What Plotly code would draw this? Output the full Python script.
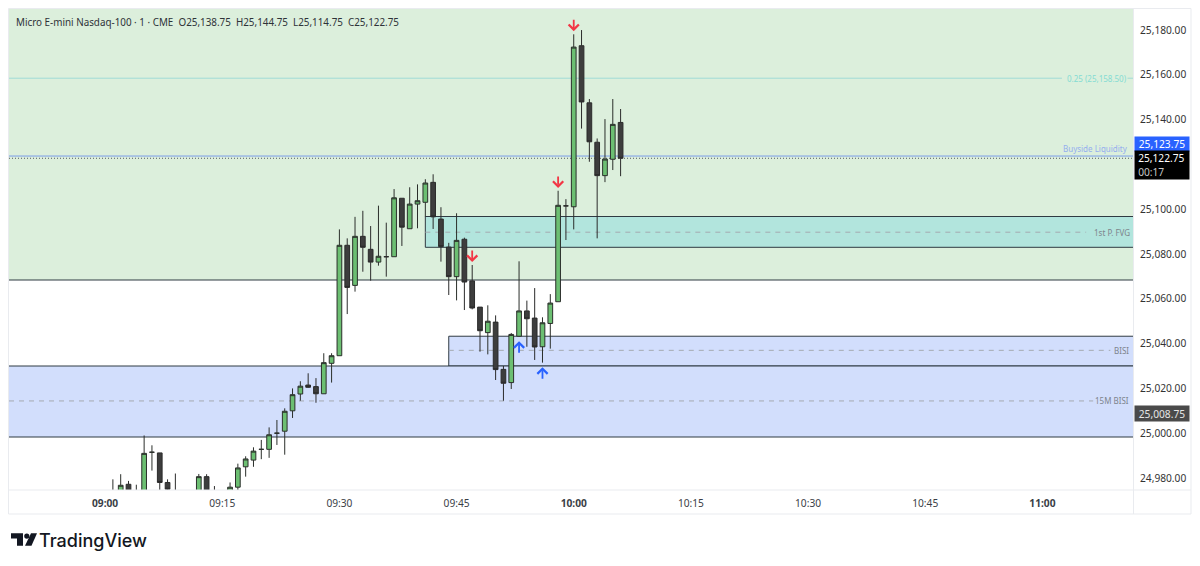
import plotly.graph_objects as go

DAY = "2025-10-06 "
times = ["09:01","09:02","09:03","09:04","09:05","09:06","09:07","09:08","09:09","09:12","09:13","09:14","09:16","09:17",
         "09:18","09:19","09:20","09:21","09:22","09:23","09:24","09:25","09:26","09:27","09:28","09:29",
         "09:30","09:31","09:32","09:33","09:34","09:35","09:36","09:37","09:38","09:39","09:40","09:41","09:42","09:43",
         "09:44","09:45","09:46","09:47","09:48","09:49","09:50","09:51","09:52","09:53","09:54","09:55","09:56","09:57",
         "09:58","09:59","10:00","10:01","10:02","10:03","10:04","10:05","10:06"]
opens = [24970,24970,24977.2,24970,24972,24991.5,24991.2,24978,24973,24970,24980.6,24970,24972,24975.9,
         24985,24988,24992.8,24992.8,25000,25000.9,25010,25017.5,25021.5,25020.8,25017.6,25031.2,
         25034.6,25083.9,25066,25087.9,25082.1,25076.4,25078.8,25078.8,25104.9,25091.3,25102.3,25103.1,25112,25095.6,
         25083.1,25069.9,25086.6,25068,25056.3,25044.9,25049.6,25028.5,25022.6,25043.3,25054.6,25051.4,25038.6,25049,
         25058.7,25101.5,25101.1,25173,25147.5,25129.9,25115,25122.3,25138.75]
highs = [24979.4,24981.7,24978.7,24977,24999,24994.6,24991.2,24979.4,24982,24981.8,24981.7,24976.4,24978,24986.4,
         24989.7,24993.7,24997,25002.6,25005.9,25011.1,25020,25023.2,25026.75,25024.6,25035.7,25035.7,
         25091,25087,25096.6,25099.3,25092.5,25101.6,25094,25109,25104.9,25109.8,25111.1,25113.4,25115.6,25100.9,
         25085,25098.2,25087.3,25075.1,25056.3,25057.1,25052.6,25030,25044.75,25076.75,25059.2,25064.8,25051.75,25062.1,
         25108.25,25104.5,25178.1,25180,25149.2,25131.6,25140.25,25149.2,25144.75]
lows = [24965,24968,24965,24964,24968,24983.3,24972,24974,24968,24968,24968,24965,24970,24974,
        24980.6,24985,24988.4,24989,24994.75,24990.4,25006.8,25014.5,25020.3,25013.6,25017.6,25022.6,
        25034.6,25053.2,25063.2,25072.1,25068.1,25074.8,25069.9,25078.8,25083.6,25091.3,25091.5,25096.6,25091.2,25076.6,
        25061.7,25059.3,25055,25055.3,25036.4,25035.2,25023.75,25014.5,25019.75,25043.1,25038.6,25032.7,25031.5,25037.75,
        25058.7,25086.25,25091,25136,25121.2,25087,25112.1,25117.5,25114.75]
closes = [24972,24976.75,24970,24973,24991,24991.5,24978,24975,24972,24980.6,24970,24968,24975.9,24984.5,
          24988.5,24992,24992.8,24999.3,25000,25009.8,25017.2,25021,25020.5,25017.6,25031.5,25034.6,
          25083.9,25065.1,25087.9,25083,25076.4,25079,25078.8,25105.1,25092,25102.3,25103.8,25111.7,25096.6,25083.3,
          25069.9,25086.1,25067.5,25055.9,25045.75,25050,25028.4,25022.3,25044.1,25054.6,25051.1,25038.5,25049.3,25058.1,
          25101.75,25101.5,25172.4,25147.9,25130.1,25115,25122.4,25137.9,25122.75]

tick_times = ["09:00","09:15","09:30","09:45","10:00","10:15","10:30","10:45","11:00"]
tick_labels = ["<b>09:00</b>","09:15","09:30","09:45","<b>10:00</b>","10:15","10:30","10:45","<b>11:00</b>"]
price_ticks = [24980,25000,25020,25040,25060,25080,25100,25140,25160,25180]

zone_names = ["Premium","1st P. FVG","BISI","15M BISI"]
zone_starts = [None,"09:41","09:44",None]
zone_tops = [25189.4,25096.75,25043.3,25030]
zone_bottoms = [25068.4,25083,25030,24998.3]
zone_mids = [None,25089.75,25037,25014.4]
zone_mid_ends = [None,"11:05:36","11:08:42","11:06:30"]
zone_fills = ["#dcefdc","#b2e5dd","#d2defc","#d2defc"]

level_fib = 25158.5
level_buyside = 25123.75
level_last = 25122.75
level_other = 25008.75

arrow_times = ["10:00","09:58","09:47","09:53","09:56"]
arrow_prices = [25179.5,25109.5,25076.4,25041.1,25029.5]
arrow_dirs = ["down","down","down","up","up"]

XMIN, XMAX = DAY + "08:47:42", DAY + "11:11:36"
YMIN, YMAX = 24974.64, 25189.4

W, H = 1200, 566
L, R, T, B = 9, 1133, 9, 490
FONT = "Noto Sans"

def px(x):
    return (x - L) / (R - L)
def py(y):
    return (B - y) / (B - T)

fig = go.Figure(go.Candlestick(
    x=[DAY + t for t in times], open=opens, high=highs, low=lows, close=closes,
    increasing=dict(line=dict(color="#2b2f2b", width=1), fillcolor="#6cbf72"),
    decreasing=dict(line=dict(color="#2b2b2b", width=1), fillcolor="#3d3d3d"),
    whiskerwidth=0, hoverinfo="skip", showlegend=False))

EDGE = "#2f3a42"
shapes = []
annots = []
for name, st, top, bot, col in zip(zone_names, zone_starts, zone_tops, zone_bottoms, zone_fills):
    x0 = DAY + st if st else XMIN
    shapes.append(dict(type="rect", layer="below", xref="x", yref="y", x0=x0, x1=XMAX, y0=bot, y1=top,
                       fillcolor=col, line_width=0))
    if name != "Premium":
        shapes.append(dict(type="line", layer="below", xref="x", yref="y", x0=x0, x1=XMAX, y0=top, y1=top,
                           line=dict(color=EDGE, width=1)))
    shapes.append(dict(type="line", layer="below", xref="x", yref="y", x0=x0, x1=XMAX, y0=bot, y1=bot,
                       line=dict(color=EDGE, width=1)))
    if st:
        shapes.append(dict(type="line", layer="below", xref="x", yref="y", x0=x0, x1=x0, y0=bot, y1=top,
                           line=dict(color=EDGE, width=1)))

label_right = {"1st P. FVG": 1132, "BISI": 1131, "15M BISI": 1131}
for name, st, mid, end in zip(zone_names, zone_starts, zone_mids, zone_mid_ends):
    if mid is None:
        continue
    shapes.append(dict(type="line", layer="below", xref="x", yref="y",
                       x0=DAY + st if st else XMIN, x1=DAY + end, y0=mid, y1=mid,
                       line=dict(color="#a4aab0", width=1, dash="5px,5px")))
    annots.append(dict(xref="paper", yref="y", x=px(label_right[name]), y=mid, text=name,
                       showarrow=False, xanchor="right", yanchor="middle",
                       font=dict(family=FONT, size=8, color="#7d848c")))

# fib level with a gap for its label
shapes.append(dict(type="line", layer="below", xref="x", yref="y", x0=XMIN, x1=DAY + "11:02:30", y0=level_fib, y1=level_fib,
                   line=dict(color="#a0dcd6", width=1)))
shapes.append(dict(type="line", layer="below", xref="x", yref="y", x0=DAY + "11:10:54", x1=XMAX, y0=level_fib, y1=level_fib,
                   line=dict(color="#a0dcd6", width=1)))
annots.append(dict(xref="paper", yref="y", x=px(1129), y=level_fib, text="0.25 (25,158.50)", showarrow=False,
                   xanchor="right", yanchor="middle", font=dict(family=FONT, size=8, color="#84dcd3")))
# buyside liquidity
shapes.append(dict(type="line", layer="below", xref="x", yref="y", x0=XMIN, x1=XMAX, y0=level_buyside, y1=level_buyside,
                   line=dict(color="#7b9ce8", width=1)))
annots.append(dict(xref="paper", yref="y", x=px(1129.5), y=level_buyside, yshift=8, text="Buyside Liquidity", showarrow=False,
                   xanchor="right", yanchor="middle", font=dict(family=FONT, size=8, color="#94aeee")))
# last price dotted
shapes.append(dict(type="line", layer="below", xref="x", yref="y", x0=XMIN, x1=XMAX, y0=level_last, y1=level_last,
                   line=dict(color="#555a60", width=1, dash="1px,2px")))

# arrows
for t, p, d in zip(arrow_times, arrow_prices, arrow_dirs):
    c = "#f23645" if d == "down" else "#2962ff"
    annots.append(dict(x=DAY + t, y=p, xref="x", yref="y", showarrow=True, ax=0, ay=-13 if d == "down" else 13,
                       arrowhead=4, arrowsize=1.1, arrowwidth=1.8, arrowcolor=c, text=""))

# price tags on the axis
tag_font = dict(family=FONT, size=10.2, color="#ffffff")
annots.append(dict(xref="paper", yref="paper", x=px(1133.5), y=py(143.7), xanchor="left", yanchor="middle", showarrow=False,
                   text=f"{level_buyside:,.2f}", bgcolor="#2962ff", width=53, height=13, borderpad=0.5, align="center",
                   font=tag_font))
annots.append(dict(xref="paper", yref="paper", x=px(1133.5), y=py(164.5), xanchor="left", yanchor="middle", showarrow=False,
                   text=f"&nbsp;{level_last:,.2f}<br>&nbsp;<span style='color:#c8c8c8'>00:17</span>", bgcolor="#000000",
                   width=53, height=27, borderpad=0.5, align="left", font=tag_font))
annots.append(dict(xref="paper", yref="y", x=px(1133.5), y=level_other, xanchor="left", yanchor="middle", showarrow=False,
                   text=f"{level_other:,.2f}", bgcolor="#4a4a4a", width=53, height=14, borderpad=0.5, align="center",
                   font=dict(family=FONT, size=10.2, color="#e6e6e6")))

# legend line
annots.append(dict(xref="paper", yref="paper", x=px(14), y=py(22), xanchor="left", yanchor="middle", showarrow=False,
                   text="Micro E-mini Nasdaq-100 · 1 · CME&nbsp;&nbsp;O25,138.75&nbsp;&nbsp;H25,144.75&nbsp;&nbsp;L25,114.75&nbsp;&nbsp;C25,122.75",
                   font=dict(family=FONT, size=9.85, color="#2e3238")))
# brand
annots.append(dict(xref="paper", yref="paper", x=px(37), y=py(540), xanchor="left", yanchor="middle", showarrow=False,
                   text="TradingView", font=dict(family="Inter", size=18, color="#131722", weight=500)))

# outer frame
frame = dict(color="#e9ebef", width=1)
shapes += [
    dict(type="rect", xref="paper", yref="paper", x0=px(8.5), x1=px(1191), y0=py(514), y1=py(8.5), line=frame, layer="below"),
    dict(type="line", xref="paper", yref="paper", x0=px(8.5), x1=px(1191), y0=py(490), y1=py(490), line=frame),
    dict(type="line", xref="paper", yref="paper", x0=px(1133.5), x1=px(1133.5), y0=py(8.5), y1=py(514), line=frame),
]
# logo
logo = "#131722"
shapes += [
    dict(type="path", xref="paper", yref="paper", fillcolor=logo, line_width=0,
         path=f"M{px(11)},{py(533.3)} L{px(23)},{py(533.3)} L{px(23)},{py(545.7)} L{px(17)},{py(545.7)} L{px(17)},{py(538.5)} L{px(11)},{py(538.5)} Z"),
    dict(type="circle", xref="paper", yref="paper", fillcolor=logo, line_width=0,
         x0=px(24.2), x1=px(29.4), y0=py(538.8), y1=py(533.4)),
    dict(type="path", xref="paper", yref="paper", fillcolor=logo, line_width=0,
         path=f"M{px(31)},{py(533.3)} L{px(37)},{py(533.3)} L{px(31.5)},{py(545.7)} L{px(25)},{py(545.7)} Z"),
]

fig.update_layout(
    width=W, height=H, autosize=False,
    margin=dict(l=L, r=W - R, t=T, b=H - B, pad=0),
    paper_bgcolor="#ffffff", plot_bgcolor="#ffffff",
    showlegend=False, boxgap=0.14,
    shapes=shapes, annotations=annots,
    font=dict(family=FONT, size=10.2, color="#333333"),
    xaxis=dict(type="date", range=[XMIN, XMAX], rangeslider=dict(visible=False), showgrid=False, zeroline=False,
               tickmode="array", tickvals=[DAY + t for t in tick_times], ticktext=tick_labels,
               ticks="", showline=False, ticklabelstandoff=6, tickfont=dict(family=FONT, size=10.2, color="#3a3e46"),
               fixedrange=True),
    yaxis=dict(side="right", range=[YMIN, YMAX], showgrid=False, zeroline=False, showline=False,
               tickmode="array", tickvals=price_ticks, tickformat=",.2f", ticks="", ticklabelstandoff=6,
               tickfont=dict(family=FONT, size=10.2, color="#333333"), fixedrange=True),
)

fig.write_html("out.html", config=dict(displayModeBar=False),
               post_script="document.body.style.margin='0';document.documentElement.style.overflow='hidden';")
